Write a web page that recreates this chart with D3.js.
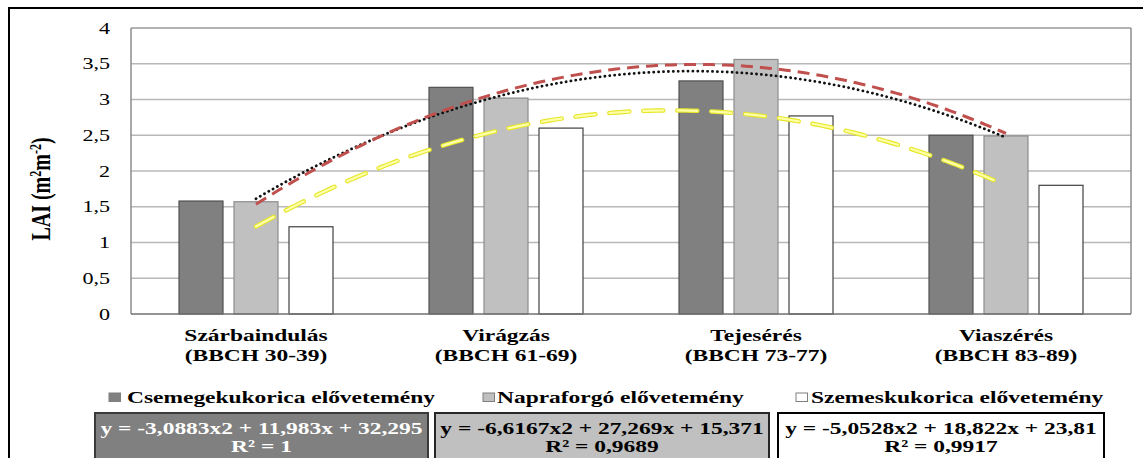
<!DOCTYPE html>
<html>
<head>
<meta charset="utf-8">
<script src="https://cdn.jsdelivr.net/npm/d3@7"></script>
<style>
  html, body { margin: 0; padding: 0; background: #fff; }
  svg { display: block; font-family: 'Liberation Serif', 'DejaVu Serif', serif; }
</style>
</head>
<body>
<svg id="chart" width="1143" height="458"></svg>
<script>
// ---- data ----
const categories = ["Szárbaindulás", "Virágzás", "Tejesérés", "Viaszérés"];
const categorySub = ["(BBCH 30-39)", "(BBCH 61-69)", "(BBCH 73-77)", "(BBCH 83-89)"];
const seriesNames = ["Csemegekukorica elővetemény", "Napraforgó elővetemény", "Szemeskukorica elővetemény"];
const csemegeValues = [1.58, 3.17, 3.26, 2.50];
const napraforgoValues = [1.57, 3.02, 3.56, 2.49];
const szemesValues = [1.22, 2.60, 2.77, 1.80];
const yTicks = [0, 0.5, 1, 1.5, 2, 2.5, 3, 3.5, 4];
const equationLines = ["y = -3,0883x2 + 11,983x + 32,295", "y = -6,6167x2 + 27,269x + 15,371", "y = -5,0528x2 + 18,822x + 23,81"];
const r2Lines = ["R² = 1", "R² = 0,9689", "R² = 0,9917"];

// ---- layout / style ----
const FONT = "Liberation Serif";
const K = 1.38; // horizontal glyph stretch of the picture
const svg = d3.select("#chart");
const plot = { left: 131, right: 1131, top: 28, bottom: 314 };
const barFill = ["#808080", "#c0c0c0", "#ffffff"];
const barStroke = ["#505050", "#8c8c8c", "#404040"];

const allSeries = [csemegeValues, napraforgoValues, szemesValues];

const x0 = d3.scaleBand().domain(categories).range([plot.left, plot.right]).paddingInner(0).paddingOuter(0);
const x1 = d3.scaleBand().domain(d3.range(3)).range([48, 202]).paddingInner(0.2);
const y = d3.scaleLinear().domain([0, 4]).range([plot.bottom, plot.top]);
const xt = d3.scaleLinear().domain([1, 4]).range([x0(categories[0]) + x0.bandwidth() / 2, x0(categories[3]) + x0.bandwidth() / 2]);

function sText(parent, x, yy, str, opts) {
  const t = parent.append("text")
    .attr("transform", `translate(${x},${yy}) scale(${K},1)`)
    .attr("text-anchor", opts.anchor || "middle")
    .attr("font-family", FONT)
    .attr("font-size", opts.size || 17)
    .attr("font-weight", opts.bold ? "bold" : "normal")
    .attr("fill", opts.fill || "#000");
  if (opts.dy) t.attr("dy", opts.dy);
  t.text(str);
  return t;
}

// outer border
svg.append("rect").attr("x", 9).attr("y", 8).attr("width", 1160).attr("height", 480)
  .attr("fill", "none").attr("stroke", "#000").attr("stroke-width", 2);

// gridlines
svg.append("g").selectAll("line").data(yTicks.filter(d => d > 0)).join("line")
  .attr("x1", plot.left).attr("x2", plot.right)
  .attr("y1", d => y(d)).attr("y2", d => y(d))
  .attr("stroke", d => d === 4 ? "#9a9a9a" : "#b8b8b8").attr("stroke-width", 1.5);

// plot frame sides
svg.append("line").attr("x1", plot.left).attr("x2", plot.left).attr("y1", plot.top).attr("y2", plot.bottom)
  .attr("stroke", "#8c8c8c").attr("stroke-width", 1.5);
svg.append("line").attr("x1", plot.right).attr("x2", plot.right).attr("y1", plot.top).attr("y2", plot.bottom)
  .attr("stroke", "#8c8c8c").attr("stroke-width", 1.5);

// bars
const groups = svg.append("g").selectAll("g").data(categories).join("g")
  .attr("transform", d => `translate(${x0(d)},0)`);
groups.selectAll("rect").data((c, ci) => allSeries.map((s, si) => ({ si, v: s[ci] }))).join("rect")
  .attr("x", d => x1(d.si)).attr("width", x1.bandwidth())
  .attr("y", d => y(d.v)).attr("height", d => y(0) - y(d.v))
  .attr("fill", d => barFill[d.si]).attr("stroke", d => barStroke[d.si]).attr("stroke-width", 1.2);

// x axis line
svg.append("line").attr("x1", plot.left).attr("x2", plot.right).attr("y1", y(0)).attr("y2", y(0))
  .attr("stroke", "#707070").attr("stroke-width", 1.5);

// polynomial (2nd order) least-squares trendlines, computed from the bar values
function quadFit(vals) {
  const xs = vals.map((_, i) => i + 1);
  const n = xs.length;
  const S = p => d3.sum(xs, x => Math.pow(x, p));
  const T = p => d3.sum(xs, (x, i) => Math.pow(x, p) * vals[i]);
  const A = [[n, S(1), S(2)], [S(1), S(2), S(3)], [S(2), S(3), S(4)]];
  const b = [T(0), T(1), T(2)];
  for (let i = 0; i < 3; i++) {
    for (let j = i + 1; j < 3; j++) {
      const f = A[j][i] / A[i][i];
      for (let k = i; k < 3; k++) A[j][k] -= f * A[i][k];
      b[j] -= f * b[i];
    }
  }
  const c = [0, 0, 0];
  for (let i = 2; i >= 0; i--) {
    let s = b[i];
    for (let k = i + 1; k < 3; k++) s -= A[i][k] * c[k];
    c[i] = s / A[i][i];
  }
  return x => c[0] + c[1] * x + c[2] * x * x;
}
const tSamples = d3.range(1, 4.0001, 0.02);
const lineGen = f => d3.line().x(t => xt(t)).y(t => y(f(t)))(tSamples);

const fDark = quadFit(csemegeValues), fLight = quadFit(napraforgoValues), fWhite = quadFit(szemesValues);

svg.append("path").attr("d", lineGen(fDark)).attr("fill", "none")
  .attr("stroke", "#111").attr("stroke-width", 2.8).attr("stroke-linecap", "round").attr("stroke-dasharray", "0.1 4.8");
svg.append("path").attr("d", lineGen(fLight)).attr("fill", "none")
  .attr("stroke", "#c0504d").attr("stroke-width", 3).attr("stroke-dasharray", "12 7");
svg.append("path").attr("d", lineGen(fWhite)).attr("fill", "none")
  .attr("stroke", "#e6e62a").attr("stroke-width", 4.5).attr("stroke-linecap", "round").attr("stroke-dasharray", "20 14");
svg.append("path").attr("d", lineGen(fWhite)).attr("fill", "none")
  .attr("stroke", "#ffffaa").attr("stroke-width", 2.2).attr("stroke-linecap", "round").attr("stroke-dasharray", "20 14");

// y tick labels
const ty = svg.append("g");
yTicks.forEach(v => {
  sText(ty, 110, y(v), String(v).replace(".", ","), { anchor: "end", size: 16, dy: "0.35em" });
});

// y title
const yt = svg.append("text")
  .attr("transform", `translate(50,189) scale(${K},1) rotate(-90)`)
  .attr("text-anchor", "middle").attr("font-family", FONT).attr("font-size", 20).attr("font-weight", "bold");
yt.append("tspan").text("LAI (m");
yt.append("tspan").attr("font-size", 12).attr("baseline-shift", "super").text("2");
yt.append("tspan").text("m");
yt.append("tspan").attr("font-size", 12).attr("baseline-shift", "super").text("-2");
yt.append("tspan").text(")");

// category labels
const cl = svg.append("g");
categories.forEach((c, i) => {
  const cx = x0(c) + x0.bandwidth() / 2;
  sText(cl, cx, 341, c, { bold: true, size: 17 });
  sText(cl, cx, 361, categorySub[i], { bold: true, size: 17 });
});

// legend
const legSq = [109, 483, 796];
const legTx = [127, 497, 811];
const lg = svg.append("g");
seriesNames.forEach((s, i) => {
  lg.append("rect").attr("x", legSq[i]).attr("y", 393).attr("width", 11.5).attr("height", 8.5)
    .attr("fill", barFill[i]).attr("stroke", "#7f7f7f").attr("stroke-width", 1);
  sText(lg, legTx[i], 403, s, { anchor: "start", bold: true, size: 17 });
});

// equation boxes
const boxX = [95, 435, 778];
const boxW = [333, 334, 326];
const boxFill = ["#808080", "#c0c0c0", "#ffffff"];
const boxStroke = ["#3a3a3a", "#262626", "#000000"];
const boxText = ["#ffffff", "#000000", "#000000"];
const eb = svg.append("g");
equationLines.forEach((e, i) => {
  eb.append("rect").attr("x", boxX[i]).attr("y", 413).attr("width", boxW[i]).attr("height", 70)
    .attr("fill", boxFill[i]).attr("stroke", boxStroke[i]).attr("stroke-width", 2);
  const cx = boxX[i] + boxW[i] / 2;
  sText(eb, cx, 434, e, { bold: true, size: 17, fill: boxText[i] });
  sText(eb, cx, 452, r2Lines[i], { bold: true, size: 17, fill: boxText[i] });
});
</script>
</body>
</html>
